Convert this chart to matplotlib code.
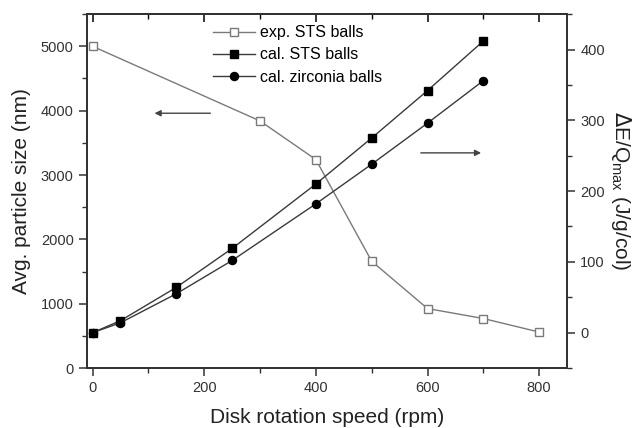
import matplotlib.pyplot as plt
from matplotlib.ticker import MultipleLocator

plt.rcParams['font.family'] = ['Liberation Sans', 'DejaVu Sans']

# Datos
rpm_exp = [0, 300, 400, 500, 600, 700, 800]
size_exp = [5000, 3840, 3240, 1660, 925, 770, 560]

rpm_cal = [0, 50, 150, 250, 400, 500, 600, 700]
energia_sts = [0, 17, 64, 119, 210, 275, 342, 412]
energia_zirc = [0, 14, 55, 102, 182, 238, 296, 356]

fig = plt.figure(figsize=(6.35, 4.28), dpi=100)
ax1 = fig.add_axes([0.137, 0.140, 0.756, 0.827])
ax2 = ax1.twinx()

gris = '#7a7a7a'
oscuro = '#3a3a3a'

l1, = ax1.plot(rpm_exp, size_exp, '-s', color=gris, lw=1.0, ms=5.2,
               mfc='white', mec=gris, mew=1.0, label='exp. STS balls')
l2, = ax2.plot(rpm_cal, energia_sts, '-s', color=oscuro, lw=1.0, ms=5.2,
               mfc='black', mec='black', label='cal. STS balls')
l3, = ax2.plot(rpm_cal, energia_zirc, '-o', color=oscuro, lw=1.0, ms=5.8,
               mfc='black', mec='black', label='cal. zirconia balls')

ax1.set_xlim(-10, 850)
ax1.set_ylim(0, 5500)
ax2.set_ylim(-50, 450)

ax1.xaxis.set_major_locator(MultipleLocator(200))
ax1.xaxis.set_minor_locator(MultipleLocator(100))
ax1.yaxis.set_major_locator(MultipleLocator(1000))
ax1.yaxis.set_minor_locator(MultipleLocator(500))
ax2.yaxis.set_major_locator(MultipleLocator(100))
ax2.yaxis.set_minor_locator(MultipleLocator(50))

for ax in (ax1, ax2):
    for s in ax.spines.values():
        s.set_linewidth(1.3)
        s.set_color('#333333')

ax1.tick_params(axis='both', which='major', direction='out', length=6, width=1.1,
                labelsize=10.5, colors='#333333', labelcolor='#333333')
ax1.tick_params(axis='both', which='minor', direction='out', length=3.5, width=1.0,
                colors='#333333')
ax2.tick_params(axis='y', which='major', direction='out', length=6, width=1.1,
                labelsize=10.5, colors='#333333')
ax2.tick_params(axis='y', which='minor', direction='out', length=3.5, width=1.0,
                colors='#333333')

# ticks de arriba hacia adentro
secx = ax1.secondary_xaxis('top')
secx.xaxis.set_major_locator(MultipleLocator(200))
secx.xaxis.set_minor_locator(MultipleLocator(100))
secx.tick_params(which='major', direction='in', length=6, width=1.1, labelsize=0, labeltop=False)
secx.tick_params(which='minor', direction='in', length=3.5, width=1.0)
secx.spines['top'].set_linewidth(1.3)

ax1.set_xlabel('Disk rotation speed (rpm)', fontsize=15, color='#222222', labelpad=9)
ax1.set_ylabel('Avg. particle size (nm)', fontsize=15, color='#222222', labelpad=7)
ax2.set_ylabel(r'$\Delta$E/Q$_{\mathregular{max}}$ (J/g/col)', fontsize=15,
               color='#222222', rotation=270, labelpad=20)

# flechas
ax1.annotate('', xy=(106, 3960), xytext=(216, 3960),
             arrowprops=dict(arrowstyle='-|>', color='#444444', lw=1.0, mutation_scale=9))
ax2.annotate('', xy=(701, 254), xytext=(583, 254),
             arrowprops=dict(arrowstyle='-|>', color='#444444', lw=1.0, mutation_scale=9))

ax2.legend(handles=[l1, l2, l3], loc='upper left', bbox_to_anchor=(0.24, 1.0),
           frameon=False, fontsize=11.5, handlelength=2.6, handletextpad=0.3,
           labelspacing=0.45, borderaxespad=0.3)

fig.savefig('out.png', dpi=100)
